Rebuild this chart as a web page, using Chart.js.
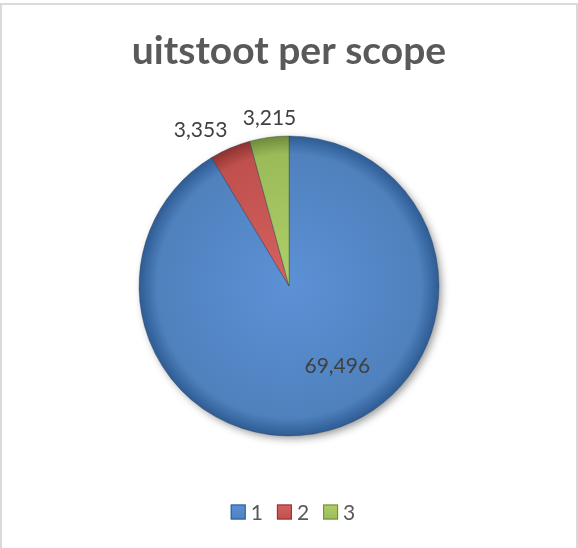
<!DOCTYPE html>
<html>
<head>
<meta charset="utf-8">
<script src="https://cdn.jsdelivr.net/npm/chart.js@4.4.1/dist/chart.umd.min.js"></script>
<style>
  html, body { margin: 0; padding: 0; background: #fff; }
  #wrap { position: relative; width: 578px; height: 548px; overflow: hidden; }
  #frame { position: absolute; left: 0; top: 3px; width: 574px; height: 560px; border: 2px solid #d9d9d9; pointer-events: none; }
</style>
</head>
<body>
<div id="wrap">
  <canvas id="pie" width="578" height="548"></canvas>
  <div id="frame"></div>
</div>
<script>
// data
const labels = ['1', '2', '3'];
const values = [69496, 3353, 3215];
const baseColors = ['#4f81bd', '#c0504d', '#9bbb59'];
const lightColors = ['#5c91d6', '#d4625f', '#afcf6a'];
const darkColors = ['#2e5c94', '#8c3330', '#6f8a3a'];

const fmt = v => v.toLocaleString('en-US');

function sliceFill(ctx) {
  const chart = ctx.chart;
  const i = ctx.dataIndex;
  const area = chart.chartArea;
  if (!area) return baseColors[i];
  const cx = (area.left + area.right) / 2, cy = (area.top + area.bottom) / 2;
  const g = chart.ctx.createRadialGradient(cx, cy, 0, cx, cy, 150);
  g.addColorStop(0, lightColors[i]);
  g.addColorStop(0.88, baseColors[i]);
  g.addColorStop(1, darkColors[i]);
  return g;
}

// soft shadow under the pie
const shadowPlugin = {
  id: 'pieShadow',
  beforeDatasetsDraw(chart) {
    const arc = chart.getDatasetMeta(0).data[0];
    if (!arc) return;
    const { x, y, outerRadius } = arc.getProps(['x', 'y', 'outerRadius'], true);
    const c = chart.ctx;
    c.save();
    c.shadowColor = 'rgba(0,0,0,0.45)';
    c.shadowBlur = 9;
    c.shadowOffsetX = 3;
    c.shadowOffsetY = 3;
    c.beginPath();
    c.arc(x, y, outerRadius - 1, 0, Math.PI * 2);
    c.fillStyle = '#3d6aa3';
    c.fill();
    c.restore();
  }
};

// value labels (inside for the big slice, outside for the small ones)
const valueLabels = {
  id: 'valueLabels',
  afterDatasetsDraw(chart, args, opts) {
    const c = chart.ctx;
    const total = values.reduce((a, b) => a + b, 0);
    chart.getDatasetMeta(0).data.forEach((arc, i) => {
      const p = arc.getProps(['x', 'y', 'startAngle', 'endAngle', 'outerRadius'], true);
      let mid = (p.startAngle + p.endAngle) / 2;
      c.save();
      c.font = '21px Lato';
      c.fillStyle = '#404040';
      if (values[i] / total > 0.2) {
        mid += opts.insideShift;
        const r = p.outerRadius * opts.insideRadius;
        c.textAlign = 'center';
        c.textBaseline = 'middle';
        c.fillText(fmt(values[i]), p.x + Math.cos(mid) * r, p.y + Math.sin(mid) * r - 1);
      } else {
        const r = p.outerRadius * opts.outsideRadius;
        c.textAlign = Math.cos(mid) < -0.3 ? 'right' : 'center';
        c.textBaseline = 'alphabetic';
        c.fillText(fmt(values[i]), p.x + Math.cos(mid) * r + 2, p.y + Math.sin(mid) * r);
      }
      c.restore();
    });
  }
};

// legend at the bottom, Excel style
const bottomLegend = {
  id: 'bottomLegend',
  afterDraw(chart) {
    const c = chart.ctx;
    c.save();
    c.font = '21px Lato';
    c.textBaseline = 'middle';
    const box = 15, gap = 5, itemGap = 14;
    const widths = labels.map(l => box + gap + c.measureText(l).width);
    const total = widths.reduce((a, b) => a + b, 0) + itemGap * (labels.length - 1);
    let x = chart.width / 2 - total / 2 + 4;
    const y = 512;
    labels.forEach((l, i) => {
      const g = c.createLinearGradient(0, y - box / 2, 0, y + box / 2);
      g.addColorStop(0, lightColors[i]);
      g.addColorStop(1, baseColors[i]);
      c.fillStyle = g;
      c.fillRect(x, y - box / 2, box, box);
      c.strokeStyle = darkColors[i];
      c.lineWidth = 1;
      c.strokeRect(x + 0.5, y - box / 2 + 0.5, box - 1, box - 1);
      c.fillStyle = '#595959';
      c.fillText(l, x + box + gap, y + 1);
      x += widths[i] + itemGap;
    });
    c.restore();
  }
};

new Chart(document.getElementById('pie'), {
  type: 'pie',
  data: {
    labels: labels,
    datasets: [{
      data: values,
      backgroundColor: sliceFill,
      borderColor: 'rgba(40,60,90,0.35)',
      borderWidth: 1,
      radius: 150
    }]
  },
  options: {
    responsive: false,
    animation: false,
    layout: { padding: { bottom: 76 } },
    plugins: {
      title: {
        display: true,
        text: 'uitstoot per scope',
        color: '#595959',
        font: { family: 'Lato', size: 39, weight: 'bold' },
        padding: { top: 28, bottom: 25.2 }
      },
      legend: { display: false },
      tooltip: { enabled: false },
      valueLabels: { insideRadius: 0.63, insideShift: -0.265, outsideRadius: 1.08 }
    }
  },
  plugins: [shadowPlugin, valueLabels, bottomLegend]
});
</script>
</body>
</html>
